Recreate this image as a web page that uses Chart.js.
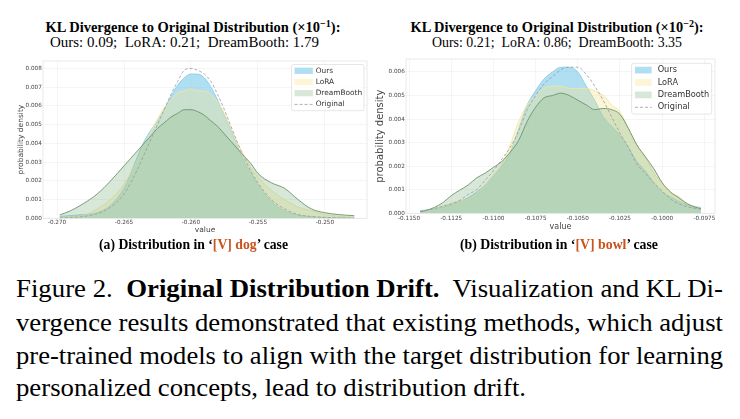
<!DOCTYPE html>
<html>
<head>
<meta charset="utf-8">
<script src="https://cdn.jsdelivr.net/npm/chart.js@4.4.1/dist/chart.umd.min.js"></script>
<style>
  body { margin: 0; width: 740px; height: 419px; background: #fff; position: relative; overflow: hidden;
         font-family: "Liberation Serif", "Times New Roman", serif; color: #000; }
  .t { position: absolute; white-space: nowrap; line-height: 16px; transform-origin: left center; }
  .mid { transform-origin: center center; }
  .h1 { font-size: 14.4px; font-weight: bold; }
  .h2 { font-size: 14.4px; }
  .sub { font-size: 13.6px; font-weight: bold; }
  .sub span { color: #c8531c; }
  .cap { position: absolute; left: 16px; white-space: nowrap; font-size: 26px; line-height: 33px;
         transform-origin: left center; }
  sup { font-size: 70%; line-height: 0; vertical-align: 0.45em; }
  canvas { position: absolute; }
</style>
</head>
<body>
<div class="t h1 mid" id="tl1" style="left:192.5px;top:18.8px">KL Divergence to Original Distribution (×10<sup>−1</sup>):</div>
<div class="t h2" id="tl2" style="left:50px;top:34.4px">Ours: 0.09;&nbsp; LoRA: 0.21;&nbsp; DreamBooth: 1.79</div>
<div class="t h1 mid" id="tr1" style="left:556.7px;top:18.8px">KL Divergence to Original Distribution (×10<sup>−2</sup>):</div>
<div class="t h2 mid" id="tr2" style="left:556.7px;top:34.4px">Ours: 0.21;&nbsp; LoRA: 0.86;&nbsp; DreamBooth: 3.35</div>

<canvas id="dogChart" width="372" height="190" style="left:0;top:50px"></canvas>
<canvas id="bowlChart" width="368" height="190" style="left:372px;top:50px"></canvas>

<div class="t sub" id="sa" style="left:99px;top:237.4px">(a) Distribution in ‘<span>[V] dog</span>’ case</div>
<div class="t sub" id="sb" style="left:460px;top:237.4px">(b) Distribution in ‘<span>[V] bowl</span>’ case</div>

<div class="cap" id="c1" style="top:272px">Figure 2.&nbsp; <b>Original Distribution Drift.</b>&nbsp; Visualization and KL Di-</div>
<div class="cap" id="c2" style="top:305.6px">vergence results demonstrated that existing methods, which adjust</div>
<div class="cap" id="c3" style="top:338.9px">pre-trained models to align with the target distribution for learning</div>
<div class="cap" id="c4" style="top:371.3px">personalized concepts, lead to distribution drift.</div>

<script>
// (a) [V] dog
const dogX = [-0.2698, -0.269, -0.268, -0.267, -0.266, -0.265, -0.2645, -0.264, -0.2635, -0.263, -0.2625,
    -0.262, -0.2615, -0.261, -0.2605, -0.260, -0.2595, -0.259, -0.2585, -0.258, -0.2575, -0.257, -0.2565,
    -0.256, -0.2555, -0.255, -0.254, -0.253, -0.252, -0.251, -0.250, -0.249, -0.2478];
const dogOurs = [0.0001, 0.00015, 0.0002, 0.0003, 0.0007, 0.0016, 0.0024, 0.0033, 0.0041, 0.0047, 0.0052,
    0.0058, 0.0065, 0.0071, 0.0075, 0.0077, 0.0077, 0.0075, 0.0070, 0.0063, 0.0055, 0.0047, 0.0038,
    0.0030, 0.0024, 0.0018, 0.0009, 0.0004, 0.00018, 0.00008, 0.00004, 0.00002, 0.00002];
const dogLora = [0.00003, 0.00007, 0.00015, 0.0005, 0.0010, 0.0018, 0.0024, 0.0031, 0.0039, 0.0046, 0.0053,
    0.0059, 0.0063, 0.0067, 0.0068, 0.0069, 0.0068, 0.0068, 0.0066, 0.0062, 0.0056, 0.0048, 0.0040,
    0.0033, 0.0027, 0.0022, 0.0015, 0.0010, 0.0006, 0.0004, 0.0002, 0.00011, 0.00006];
const dogDream = [0.00018, 0.0004, 0.0008, 0.0013, 0.0020, 0.0028, 0.0032, 0.0036, 0.0040, 0.0044, 0.0048,
    0.0051, 0.0054, 0.0056, 0.0058, 0.0058, 0.0057, 0.0055, 0.0052, 0.0049, 0.0045, 0.0041, 0.0037,
    0.0033, 0.0029, 0.0024, 0.0019, 0.0016, 0.0010, 0.0005, 0.0003, 0.0002, 0.00014];
const dogOrig = [0.00002, 0.00004, 0.0001, 0.00025, 0.0006, 0.0013, 0.0019, 0.0026, 0.0034, 0.0042, 0.0050,
    0.0058, 0.0066, 0.0073, 0.0079, 0.0080, 0.0079, 0.0077, 0.0073, 0.0066, 0.0058, 0.0049, 0.0040,
    0.0032, 0.0025, 0.0019, 0.0010, 0.0005, 0.0002, 0.0001, 0.00005, 0.00002, 0.00001];
const dogXTicks = [-0.270, -0.265, -0.260, -0.255, -0.250];
const dogYTicks = [0, 0.001, 0.002, 0.003, 0.004, 0.005, 0.006, 0.007, 0.008];

// (b) [V] bowl
const bowlX = [-0.11435, -0.1140, -0.1135, -0.1130, -0.1125, -0.1120, -0.1115, -0.1110, -0.1105, -0.1100,
    -0.1095, -0.1090, -0.1085, -0.1080, -0.1075, -0.1070, -0.1065, -0.1060, -0.1055, -0.1050, -0.1045,
    -0.1040, -0.1035, -0.1030, -0.1025, -0.1020, -0.1015, -0.1010, -0.1005, -0.1000, -0.0995, -0.0990,
    -0.0985, -0.0980, -0.0977];
const bowlOurs = [0.00011, 0.00014, 0.00019, 0.00026, 0.00036, 0.0005, 0.00066, 0.0009, 0.0012, 0.0016,
    0.0020, 0.0026, 0.0036, 0.0046, 0.0052, 0.0057, 0.0060, 0.0062, 0.0062, 0.0060, 0.0054,
    0.0048, 0.0041, 0.0037, 0.0033, 0.0028, 0.0022, 0.0018, 0.0013, 0.0009, 0.0007, 0.0005,
    0.00037, 0.00028, 0.00024];
const bowlLora = [0.00007, 0.00012, 0.0002, 0.0003, 0.00042, 0.00053, 0.0006, 0.00085, 0.0012, 0.0016,
    0.0021, 0.0029, 0.0039, 0.0046, 0.0050, 0.0053, 0.0054, 0.0054, 0.0053, 0.0053, 0.0053,
    0.0052, 0.0050, 0.0046, 0.0043, 0.0036, 0.0029, 0.0024, 0.0017, 0.0013, 0.0009, 0.0007,
    0.0004, 0.00026, 0.0002];
const bowlDream = [0.00007, 0.00012, 0.00025, 0.00045, 0.00075, 0.00098, 0.0012, 0.0015, 0.0017, 0.00195,
    0.0022, 0.0026, 0.0031, 0.0039, 0.0045, 0.0049, 0.0050, 0.0051, 0.0050, 0.0048, 0.0046,
    0.0044, 0.00445, 0.0044, 0.0042, 0.0036, 0.0029, 0.0024, 0.0019, 0.0013, 0.0009, 0.00065,
    0.0004, 0.00025, 0.0002];
const bowlOrig = [0.00007, 0.00012, 0.0002, 0.0003, 0.0004, 0.00055, 0.0008, 0.0010, 0.0014, 0.0018,
    0.0023, 0.0028, 0.0035, 0.0044, 0.0050, 0.0055, 0.0058, 0.0061, 0.0062, 0.0062, 0.0059,
    0.0054, 0.0048, 0.0041, 0.0034, 0.0028, 0.0021, 0.0017, 0.0013, 0.00095, 0.0006, 0.0004,
    0.00028, 0.0002, 0.00018];
const bowlXTicks = [-0.1150, -0.1125, -0.1100, -0.1075, -0.1050, -0.1025, -0.1000, -0.0975];
const bowlYTicks = [0, 0.001, 0.002, 0.003, 0.004, 0.005, 0.006];

const seriesNames = ['Ours', 'LoRA', 'DreamBooth', 'Original'];

function pts(xs, ys) {
    return xs.map((x, i) => ({ x: x, y: ys[i] }));
}

// legend drawn inside the plot, upper right, like the matplotlib one
const boxLegend = {
    id: 'boxLegend',
    afterDatasetsDraw(chart, args, o) {
        const ctx = chart.ctx, a = chart.chartArea;
        const sets = chart.data.datasets;
        ctx.save();
        ctx.font = o.size + 'px "DejaVu Sans"';
        const tw = Math.max(...sets.map(d => ctx.measureText(d.label).width));
        const w = o.padL + o.patchW + o.gap + tw + o.padR;
        const h = o.first * 2 + o.rowH * (sets.length - 1);
        const x = a.right - o.inset - w, y = a.top + o.insetTop;
        ctx.beginPath();
        ctx.roundRect(x, y, w, h, 2);
        ctx.fillStyle = 'rgba(255,255,255,0.85)';
        ctx.fill();
        ctx.strokeStyle = '#e0e0e0';
        ctx.lineWidth = 0.8;
        ctx.stroke();
        sets.forEach((d, i) => {
            const cy = y + o.first + i * o.rowH;
            const px = x + o.padL;
            if (d.fill) {
                ctx.fillStyle = d.backgroundColor;
                ctx.fillRect(px, cy - o.patchH / 2, o.patchW, o.patchH);
            } else {
                ctx.beginPath();
                ctx.setLineDash(d.borderDash);
                ctx.strokeStyle = d.borderColor;
                ctx.lineWidth = d.borderWidth;
                ctx.moveTo(px, cy);
                ctx.lineTo(px + o.patchW, cy);
                ctx.stroke();
                ctx.setLineDash([]);
            }
            ctx.fillStyle = '#333';
            ctx.textBaseline = 'middle';
            ctx.textAlign = 'left';
            ctx.fillText(d.label, px + o.patchW + o.gap, cy);
        });
        ctx.restore();
    }
};

// thin light frame round the plot area
const plotFrame = {
    id: 'plotFrame',
    beforeDatasetsDraw(chart) {
        const ctx = chart.ctx, a = chart.chartArea;
        ctx.save();
        ctx.strokeStyle = '#e4e4e4';
        ctx.lineWidth = 0.8;
        ctx.strokeRect(a.left, a.top, a.right - a.left, a.bottom - a.top);
        ctx.restore();
    }
};

function makeDatasets(xs, ours, lora, dream, orig) {
    return [{
        label: seriesNames[0], data: pts(xs, ours), order: 4,
        borderColor: 'rgb(135,206,235)', backgroundColor: 'rgba(135,206,235,0.65)',
        borderWidth: 0.9, fill: 'origin'
    }, {
        label: seriesNames[1], data: pts(xs, lora), order: 3,
        borderColor: 'rgb(243,227,160)', backgroundColor: 'rgba(245,225,140,0.35)',
        borderWidth: 0.9, fill: 'origin'
    }, {
        label: seriesNames[2], data: pts(xs, dream), order: 2,
        borderColor: 'rgb(110,146,110)', backgroundColor: 'rgba(143,188,143,0.35)',
        borderWidth: 0.9, fill: 'origin'
    }, {
        label: seriesNames[3], data: pts(xs, orig), order: 1,
        borderColor: '#9a9a9a', backgroundColor: 'rgba(0,0,0,0)',
        borderWidth: 0.8, borderDash: [3, 2], fill: false
    }];
}

function makeChart(id, cfg) {
    const tickFont = { family: 'DejaVu Sans', size: 5.7 };
    return new Chart(document.getElementById(id), {
        type: 'line',
        data: { datasets: cfg.datasets },
        options: {
            responsive: false,
            animation: false,
            devicePixelRatio: 1,
            layout: { padding: cfg.padding },
            elements: { point: { radius: 0 }, line: { cubicInterpolationMode: 'monotone' } },
            plugins: { legend: { display: false }, tooltip: { enabled: false }, boxLegend: cfg.legend },
            scales: {
                x: {
                    type: 'linear', min: cfg.xMin, max: cfg.xMax,
                    afterBuildTicks: s => { s.ticks = cfg.xTicks.map(v => ({ value: v })); },
                    afterFit: s => { s.height = cfg.xAxisH; },
                    ticks: { font: tickFont, color: '#444', padding: cfg.xTickPad,
                             maxRotation: 0, autoSkip: false,
                             callback: v => v.toFixed(cfg.xDigits) },
                    grid: { color: '#eeeeee', lineWidth: 0.6, drawTicks: false },
                    border: { display: false },
                    title: { display: true, text: 'value', color: '#444',
                             font: { family: 'DejaVu Sans', size: cfg.xTitleSize },
                             padding: { top: 0, bottom: cfg.xTitlePad } }
                },
                y: {
                    min: 0, max: cfg.yMax,
                    afterBuildTicks: s => { s.ticks = cfg.yTicks.map(v => ({ value: v })); },
                    afterFit: s => { s.width = cfg.yAxisW; },
                    ticks: { font: tickFont, color: '#444', padding: 1.2,
                             callback: v => v.toFixed(3) },
                    grid: { color: '#eeeeee', lineWidth: 0.6, drawTicks: false },
                    border: { display: false },
                    title: { display: true, text: 'probability density', color: '#444',
                             font: { family: 'DejaVu Sans', size: cfg.yTitleSize },
                             padding: { top: cfg.yTitlePad, bottom: 0 } }
                }
            }
        },
        plugins: [plotFrame, boxLegend]
    });
}

makeChart('dogChart', {
    datasets: makeDatasets(dogX, dogOurs, dogLora, dogDream, dogOrig),
    padding: { top: 11, right: 5, left: 0, bottom: 0 },
    xMin: -0.27105, xMax: -0.24685, yMax: 0.0084,
    xTicks: dogXTicks, yTicks: dogYTicks, xDigits: 3,
    xAxisH: 21.7, yAxisW: 43, xTickPad: 0.8,
    xTitleSize: 7.5, xTitlePad: 5.5, yTitleSize: 7.5, yTitlePad: 16.2,
    legend: { size: 7.4, inset: 3, insetTop: 3.5, padL: 3, padR: 1.8, patchW: 18.3, patchH: 6.3,
              gap: 2.8, first: 6.3, rowH: 11.2 }
});

makeChart('bowlChart', {
    datasets: makeDatasets(bowlX, bowlOurs, bowlLora, bowlDream, bowlOrig),
    padding: { top: 9, right: 25, left: 0, bottom: 0 },
    xMin: -0.11518, xMax: -0.09687, yMax: 0.00655,
    xTicks: bowlXTicks, yTicks: bowlYTicks, xDigits: 4,
    xAxisH: 26.7, yAxisW: 34, xTickPad: 2.3,
    xTitleSize: 8, xTitlePad: 7.9, yTitleSize: 10, yTitlePad: 2.7,
    legend: { size: 8.2, inset: 3.3, insetTop: 4.3, padL: 3.3, padR: 2.5, patchW: 16.7, patchH: 6.7,
              gap: 6, first: 6.8, rowH: 12.4 }
});

// squeeze or stretch a line sideways so it spans the width it has in the picture
function fitLine(id, target) {
    const el = document.getElementById(id);
    const w = el.getBoundingClientRect().width;
    const s = target / w;
    el.style.transform = (el.classList.contains('mid') ? 'translateX(-50%) ' : '') + 'scaleX(' + s + ')';
}
fitLine('tl1', 295);
fitLine('tr1', 293);
fitLine('tl2', 269);
fitLine('tr2', 250);
fitLine('sa', 189);
fitLine('sb', 198);
fitLine('c1', 707);
fitLine('c2', 707);
fitLine('c3', 707);
fitLine('c4', 510);
</script>
</body>
</html>
